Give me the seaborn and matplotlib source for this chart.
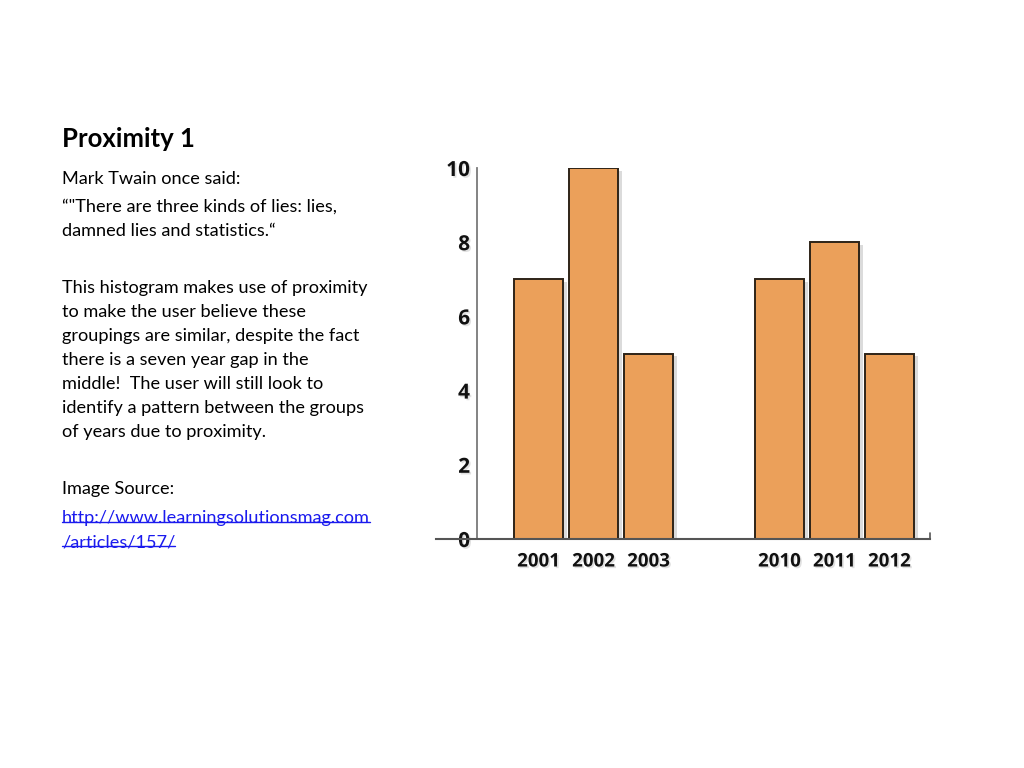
import matplotlib
matplotlib.use('Agg')
import matplotlib.pyplot as plt
import matplotlib.patheffects as pe
from matplotlib.lines import Line2D
import seaborn as sns
import pandas as pd

sns.set_theme(style='white')
plt.rcParams['font.family'] = ['Lato', 'DejaVu Sans']

years = ['2001', '2002', '2003', '2010', '2011', '2012']
values = [7, 10, 5, 7, 8, 5]
group_gap = 2.38  # visual gap between the two groups (in bar slots)

# slide text
title = 'Proximity 1'
body_lines = [
    ('Mark Twain once said:', 179),
    ('\u201c"There are three kinds of lies: lies,', 207),
    ('damned lies and statistics.\u201c', 231),
    ('This histogram makes use of proximity', 288),
    ('to make the user believe these', 312),
    ('groupings are similar, despite the fact', 336),
    ('there is a seven year gap in the', 360),
    ('middle!  The user will still look to', 384),
    ('identify a pattern between the groups', 408),
    ('of years due to proximity.', 432),
    ('Image Source:', 489),
]
url_lines = [('http://www.learningsolutionsmag.com', 518), ('/articles/157/', 542)]

pos = [0, 1, 2, 2 + group_gap, 3 + group_gap, 4 + group_gap]
df = pd.DataFrame({'pos': pos, 'year': years, 'value': values})

fig = plt.figure(figsize=(10.24, 7.68), dpi=100)
ax = fig.add_axes([436 / 1024, 1 - 539 / 768, 494 / 1024, 371 / 768])

sns.barplot(data=df, x='pos', y='value', native_scale=True, width=0.89,
            color='#EBA05A', saturation=1, edgecolor='#2e2418', linewidth=1.4, ax=ax)
for p in ax.patches:
    p.set_path_effects([pe.SimplePatchShadow(offset=(3, -2), shadow_rgbFace='#999999', alpha=0.35),
                        pe.Normal()])

ax.set_xlim((436 - 538.5) / 55, (930 - 538.5) / 55)
ax.set_ylim(0, 10)
ax.spines['left'].set_position(('data', (477 - 538.5) / 55))
ax.spines['left'].set_color('#7a7a7a')
ax.spines['left'].set_linewidth(1.3)
ax.spines['bottom'].set_color('#555555')
ax.spines['bottom'].set_linewidth(1.5)
for s in ['top', 'right']:
    ax.spines[s].set_visible(False)
ax.axvline(ax.get_xlim()[1], ymin=0, ymax=0.015, color='#555555', lw=1.2, clip_on=False)

ax.set_xticks(pos, years)
ax.set_yticks([0, 2, 4, 6, 8, 10])
ax.tick_params(axis='x', length=0, pad=9, labelsize=13.5)
ax.tick_params(axis='y', direction='in', length=8, width=1.2, color='#7a7a7a', pad=5, labelsize=15)
for lab in ax.get_xticklabels() + ax.get_yticklabels():
    lab.set_fontfamily(['Open Sans', 'DejaVu Sans'])
    lab.set_fontweight('bold')
    lab.set_color('#111111')
    lab.set_path_effects([pe.withSimplePatchShadow(offset=(1.2, -1.2), shadow_rgbFace='#aaaaaa', alpha=0.35)])
ax.set_xlabel('')
ax.set_ylabel('')

# left-hand slide text
fig.text(62 / 1024, 1 - 139 / 768, title, fontsize=18.5, fontweight='bold', va='center', ha='left', color='black')
for txt, y in body_lines:
    fig.text(62 / 1024, 1 - y / 768, txt, fontsize=13.1, va='center', ha='left', color='black')
url_color = '#1a1aee'
url_texts = []
for txt, y in url_lines:
    url_texts.append(fig.text(62 / 1024, 1 - y / 768, txt, fontsize=13.1, va='center', ha='left', color=url_color))

fig.canvas.draw()
r = fig.canvas.get_renderer()
for t in url_texts:
    bb = t.get_window_extent(renderer=r).transformed(fig.transFigure.inverted())
    fig.add_artist(Line2D([bb.x0, bb.x1], [bb.y0 + 0.005, bb.y0 + 0.005], color=url_color, lw=1.0,
                          transform=fig.transFigure))

fig.savefig('out.png', dpi=100)
